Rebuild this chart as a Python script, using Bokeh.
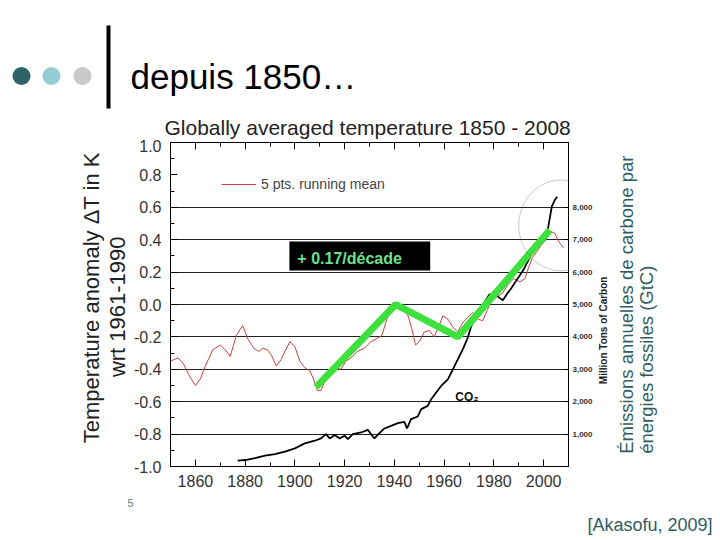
import numpy as np
from bokeh.plotting import figure
from bokeh.layouts import column, row
from bokeh.core.properties import value
from bokeh.models import (Range1d, LinearAxis, FixedTicker, PrintfTickFormatter,
                          NumeralTickFormatter, Label, BoxAnnotation, PolyAnnotation,
                          Legend, LegendItem, Grid)
from bokeh.embed import file_html
from bokeh.resources import INLINE

# ---------------- data ----------------
temp_years = [1850, 1853, 1855, 1857.6, 1860, 1862, 1864, 1867, 1870, 1872, 1874, 1876.5,
              1879, 1881, 1883.5, 1885.5, 1887, 1889, 1890.5, 1892.5, 1894.5, 1896, 1898,
              1900, 1902, 1904, 1906, 1907.5, 1909, 1910.5, 1912.5, 1914.5, 1916.5, 1918.5,
              1920.5, 1922.5, 1925, 1928, 1930.5, 1933, 1935, 1937, 1938.5, 1940.5, 1943.5,
              1945.5, 1947, 1948.5, 1950, 1952, 1954, 1956, 1958, 1959.5, 1961.5, 1963.5,
              1965.5, 1967.5, 1969.5, 1971.5, 1973.5, 1975.5, 1977.5, 1979, 1981.5, 1983.5,
              1985.5, 1988, 1990.5, 1992.5, 1994, 1995.5, 1997.5, 1999.5, 2001.5, 2003,
              2004.5, 2006, 2008]
temp_anom = [-0.35, -0.33, -0.36, -0.44, -0.50, -0.46, -0.38, -0.28, -0.25, -0.28, -0.32, -0.19,
             -0.13, -0.21, -0.27, -0.29, -0.27, -0.28, -0.31, -0.38, -0.34, -0.29, -0.23,
             -0.26, -0.35, -0.39, -0.41, -0.46, -0.53, -0.53, -0.46, -0.40, -0.39, -0.40,
             -0.35, -0.33, -0.29, -0.27, -0.23, -0.21, -0.19, -0.09, -0.03, -0.01, -0.03,
             -0.07, -0.15, -0.25, -0.23, -0.17, -0.16, -0.20, -0.13, -0.07, -0.09, -0.14,
             -0.17, -0.11, -0.08, -0.05, -0.09, -0.10, -0.03, 0.03, 0.05, 0.07,
             0.12, 0.16, 0.14, 0.16, 0.23, 0.29, 0.33, 0.38, 0.42, 0.45,
             0.44, 0.39, 0.35]

co2_years = [1877, 1880, 1884, 1888, 1892, 1896, 1900, 1904, 1908, 1910.5, 1912.5, 1914,
             1916, 1918, 1920, 1921.3, 1923.3, 1926.6, 1929.3, 1930.6, 1932, 1934, 1936,
             1938.7, 1941.4, 1944, 1945.1, 1946.7, 1949.4, 1950.8, 1953.4, 1954.8, 1956.8,
             1958.8, 1961.5, 1963.5, 1965.5, 1967.5, 1969.5, 1970.9, 1972.9, 1974.9, 1976.9,
             1978.2, 1980.2, 1982.3, 1983.6, 1985.6, 1987, 1989.2, 1991.9, 1994.6, 1997.3,
             2000.6, 2001.9, 2002.6, 2003.3, 2004.6, 2005.5]
co2_mtc = [180, 200, 260, 333, 385, 456, 560, 713, 795, 867, 1000, 867,
           970, 867, 950, 846, 1000, 1050, 1133, 1000, 867, 1030, 1174,
           1256, 1338, 1380, 1174, 1462, 1544, 1770, 1872, 2077, 2282,
           2487, 2692, 3000, 3308, 3615, 3974, 4333, 4641, 4897, 5154,
           5308, 5338, 5205, 5133, 5359, 5500, 5760, 6070, 6480, 6740,
           7000, 7410, 7720, 8030, 8240, 8320]

trend_years = [1908.5, 1940.5, 1965.5, 2002.5]
trend_anom = [-0.51, 0.0, -0.2, 0.46]

x_ticks = [1860, 1880, 1900, 1920, 1940, 1960, 1980, 2000]
y_ticks = [-1.0, -0.8, -0.6, -0.4, -0.2, 0.0, 0.2, 0.4, 0.6, 0.8, 1.0]
co2_ticks = [1000, 2000, 3000, 4000, 5000, 6000, 7000, 8000]
grid_levels = [-0.8, -0.6, -0.4, -0.2, 0.0, 0.2, 0.4, 0.6]

# ---------------- page geometry (pixels) ----------------
PW, PH = 720, 540
HEAD_H = 139          # header strip height
MID_BOTTOM = 496      # bottom of the middle row
LEFT_W = 130          # left label strip width
RIGHT_X = 596         # start of right label strip
FL, FR, FT, FB = 170, 568, 142, 466   # chart frame edges
FONT = "Liberation Sans"
SLATE = "#2f5d61"


def Y(py):
    return PH - py


def deco(width, height, x0, x1, y0, y1):
    f = figure(width=width, height=height, x_range=Range1d(x0, x1), y_range=Range1d(y0, y1),
               output_backend="svg", toolbar_location=None, x_axis_type=None, y_axis_type=None,
               min_border=0, outline_line_color=None)
    f.background_fill_color = "white"
    f.border_fill_color = "white"
    return f


def txt(f, x, y, s, size, color, bold=False, angle=0.0, align="left"):
    f.text(x=[x], y=[y], text=[s], text_font=value(FONT), text_font_size=value(f"{size}px"),
           text_font_style=value("bold" if bold else "normal"), text_color=color,
           text_baseline=value("alphabetic"), text_align=value(align), angle=angle)


# ---------------- header ----------------
header = deco(PW, HEAD_H, 0, PW, Y(HEAD_H), Y(0))
header.scatter(x=[21, 51, 82], y=[Y(75.5)] * 3, size=18,
               fill_color=["#2e6468", "#93cdd2", "#c8c8c8"], line_color=None)
header.quad(left=[106], right=[110], bottom=[Y(108)], top=[Y(25)],
            fill_color="black", line_color=None)
txt(header, 130, Y(76), "depuis 1850…", 35, "black")
txt(header, 164, Y(126.5), "Globally averaged temperature 1850 - 2008", 21, "#222222")

# ---------------- left labels ----------------
left_fig = deco(LEFT_W, MID_BOTTOM - HEAD_H, 0, LEFT_W, Y(MID_BOTTOM), Y(HEAD_H))
txt(left_fig, 91, Y(310), "Temperature anomaly ΔT in K", 22, "#222222",
    angle=np.pi / 2, align="center")
txt(left_fig, 117, Y(320), "wrt 1961-1990", 22, "#222222", angle=np.pi / 2, align="center")

# ---------------- right labels ----------------
right_fig = deco(PW - RIGHT_X, MID_BOTTOM - HEAD_H, RIGHT_X, PW, Y(MID_BOTTOM), Y(HEAD_H))
txt(right_fig, 602.5, Y(346), "Million Tons of Carbon", 10, "#222222", bold=True,
    angle=np.pi / 2, align="center")
txt(right_fig, 626, Y(482), "Émissions annuelles  de carbone par", 18.5, SLATE,
    angle=np.pi / 2)
txt(right_fig, 646, Y(482), "énergies fossiles (GtC)", 18.5, SLATE, angle=np.pi / 2)

# ---------------- footer ----------------
footer = deco(PW, PH - MID_BOTTOM, 0, PW, Y(PH), Y(MID_BOTTOM))
txt(footer, 127, Y(502), "5", 11, "#5a7f82")
txt(footer, 712, Y(524), "[Akasofu, 2009]", 18, SLATE, align="right")

# ---------------- main chart ----------------
p = figure(width=RIGHT_X - LEFT_W, height=MID_BOTTOM - HEAD_H,
           x_range=Range1d(1850, 2010), y_range=Range1d(-1.0, 1.0),
           output_backend="svg", toolbar_location=None,
           x_axis_type=None, y_axis_type=None,
           min_border_left=FL - LEFT_W, min_border_right=RIGHT_X - FR,
           min_border_top=FT - HEAD_H, min_border_bottom=MID_BOTTOM - FB)
p.extra_y_ranges = {"co2": Range1d(0, 10000)}
p.outline_line_color = "black"
p.outline_line_width = 1
p.background_fill_color = "white"
p.border_fill_color = "white"


def style_axis(ax, size="16px"):
    ax.axis_line_color = "black"
    ax.major_tick_line_color = "black"
    ax.minor_tick_line_color = "black"
    ax.major_tick_in = 7
    ax.major_tick_out = 0
    ax.minor_tick_in = 4
    ax.minor_tick_out = 0
    ax.major_label_text_font = FONT
    ax.major_label_text_font_size = size
    ax.major_label_text_color = "#333333"


x_minor = list(range(1850, 2011, 10))
y_minor = [round(-1.0 + 0.1 * i, 1) for i in range(21)]
co2_minor = list(range(0, 10001, 500))

ax_b = LinearAxis(ticker=FixedTicker(ticks=x_ticks, minor_ticks=x_minor))
style_axis(ax_b)
ax_b.major_label_standoff = 8
p.add_layout(ax_b, "below")

ax_t = LinearAxis(ticker=FixedTicker(ticks=x_ticks, minor_ticks=x_minor))
style_axis(ax_t, "0px")
ax_t.major_label_standoff = 0
ax_t.major_label_text_color = None
p.add_layout(ax_t, "above")

ax_l = LinearAxis(ticker=FixedTicker(ticks=y_ticks, minor_ticks=y_minor),
                  formatter=PrintfTickFormatter(format="%.1f"))
style_axis(ax_l)
ax_l.major_label_standoff = 9
p.add_layout(ax_l, "left")

ax_r = LinearAxis(y_range_name="co2", ticker=FixedTicker(ticks=co2_ticks, minor_ticks=co2_minor),
                  formatter=NumeralTickFormatter(format="0,0"))
style_axis(ax_r, "8px")
ax_r.major_tick_in = 5
ax_r.minor_tick_in = 0
ax_r.major_label_text_font_style = "bold"
ax_r.major_label_standoff = 4
p.add_layout(ax_r, "right")

p.add_layout(Grid(dimension=1, ticker=FixedTicker(ticks=grid_levels),
                  grid_line_color="#222222", grid_line_width=1))

red = p.line(temp_years, temp_anom, line_color="#c94040", line_width=1)
p.line(co2_years, co2_mtc, y_range_name="co2", line_color="black", line_width=1.8)
p.line(trend_years, trend_anom, line_color="#3ee03e", line_width=7)

legend = Legend(items=[LegendItem(label="5 pts. running mean", renderers=[red])],
                location=(51, 274), glyph_width=35, glyph_height=16, padding=0, margin=0,
                background_fill_alpha=0, border_line_color=None, label_standoff=5,
                label_text_font=FONT, label_text_font_size="14px", label_text_color="#444444")
p.add_layout(legend)

p.add_layout(BoxAnnotation(left=1897.8, right=1954.4, bottom=0.21, top=0.389,
                           fill_color="black", fill_alpha=1, line_color=None))
p.add_layout(Label(x=1901, y=0.284, text="+ 0.17/décade", text_font=FONT,
                   text_font_size="16px", text_font_style="bold", text_color="#6ee08a",
                   text_baseline="alphabetic"))
p.add_layout(Label(x=1964.5, y=-0.568, text="CO₂", text_font=FONT,
                   text_font_size="12px", text_font_style="bold", text_color="#111111",
                   text_baseline="alphabetic"))

t = np.linspace(0, 2 * np.pi, 80)
p.add_layout(PolyAnnotation(xs=list(2007 + 17 * np.cos(t)), ys=list(0.488 + 0.28 * np.sin(t)),
                            fill_color=None, line_color="#3d5a5e", line_width=1))

layout = column(header, row(left_fig, p, right_fig), footer)
open("out.html", "w").write(file_html(layout, INLINE))
